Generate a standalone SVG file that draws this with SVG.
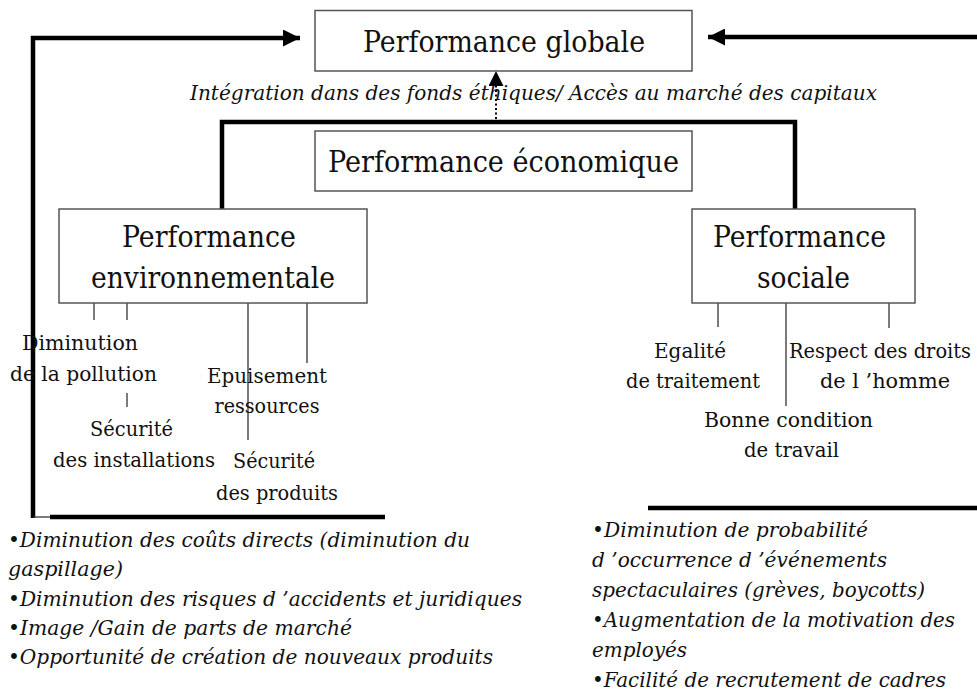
<svg xmlns="http://www.w3.org/2000/svg" width="977" height="696" viewBox="0 0 977 696">
<defs>
<style>
text{font-family:'DejaVu Serif','Noto Serif',serif;fill:#111}
.box{fill:#fff;stroke:#555;stroke-width:1.5}
.big{font-size:29px;text-anchor:middle}
.sm{font-size:21px;text-anchor:middle}
.it{font-size:19.5px;font-style:italic}
.thick{fill:none;stroke:#000;stroke-width:4.5}
.thin{fill:none;stroke:#333;stroke-width:1.3}
</style>
<marker id="ah" viewBox="0 0 10 10" refX="10" refY="5" markerWidth="17" markerHeight="17" markerUnits="userSpaceOnUse" orient="auto">
<path d="M0,0 L10,5 L0,10 z" fill="#000"/>
</marker>
<marker id="ahs" viewBox="0 0 10 10" refX="10" refY="5" markerWidth="15" markerHeight="15" markerUnits="userSpaceOnUse" orient="auto">
<path d="M0,0 L10,5 L0,10 z" fill="#000"/>
</marker>
</defs>
<rect width="977" height="696" fill="#fff"/>

<g id="connectors">
<polyline class="thick" points="33,518 33,38 300,38" marker-end="url(#ah)"/>
<line class="thick" x1="977" y1="37" x2="708" y2="37" marker-end="url(#ah)"/>
<path d="M496,87 L496,71" stroke="none" marker-end="url(#ahs)"/>
<line x1="496" y1="119" x2="496" y2="86" stroke="#000" stroke-width="2" stroke-dasharray="2,2.5"/>
<polyline class="thick" points="222,209 222,122 795,122 795,209"/>
<line class="thin" x1="33" y1="517" x2="50" y2="517"/>
<line class="thick" x1="50" y1="517" x2="385" y2="517"/>
<line class="thick" x1="648" y1="508" x2="977" y2="508"/>
<line class="thin" x1="94" y1="303" x2="94" y2="320"/>
<line class="thin" x1="127" y1="303" x2="127" y2="320"/>
<line class="thin" x1="127" y1="393" x2="127" y2="407"/>
<line class="thin" x1="248" y1="303" x2="248" y2="440"/>
<line class="thin" x1="307" y1="303" x2="307" y2="363"/>
<line class="thin" x1="718" y1="303" x2="718" y2="327"/>
<line class="thin" x1="786" y1="303" x2="786" y2="406"/>
<line class="thin" x1="889" y1="303" x2="889" y2="328"/>
</g>

<g id="global">
<rect class="box" x="315" y="10.5" width="377" height="60.5"/>
<text class="big" x="504" y="52" textLength="282" lengthAdjust="spacingAndGlyphs">Performance globale</text>
</g>
<g id="integration">
<text class="it" x="190" y="100" textLength="687" lengthAdjust="spacingAndGlyphs">Intégration dans des fonds éthiques/ Accès au marché des capitaux</text>
</g>
<g id="economique">
<rect class="box" x="315" y="131" width="377" height="60"/>
<text class="big" x="503.5" y="172" textLength="351" lengthAdjust="spacingAndGlyphs">Performance économique</text>
</g>
<g id="environnementale">
<rect class="box" x="59" y="209" width="308" height="94"/>
<text class="big" x="209" y="247" textLength="174" lengthAdjust="spacingAndGlyphs">Performance</text>
<text class="big" x="213" y="288" textLength="244" lengthAdjust="spacingAndGlyphs">environnementale</text>
</g>
<g id="sociale">
<rect class="box" x="692" y="209" width="223" height="94"/>
<text class="big" x="799.5" y="247" textLength="173" lengthAdjust="spacingAndGlyphs">Performance</text>
<text class="big" x="803.5" y="288" textLength="93" lengthAdjust="spacingAndGlyphs">sociale</text>
</g>

<g id="pollution">
<text class="sm" x="80" y="350" textLength="116" lengthAdjust="spacingAndGlyphs">Diminution</text>
<text class="sm" x="83.5" y="381" textLength="147" lengthAdjust="spacingAndGlyphs">de la pollution</text>
</g>
<g id="installations">
<text class="sm" x="131.5" y="436" textLength="83" lengthAdjust="spacingAndGlyphs">Sécurité</text>
<text class="sm" x="134" y="467" textLength="162" lengthAdjust="spacingAndGlyphs">des installations</text>
</g>
<g id="produits">
<text class="sm" x="274" y="468" textLength="82" lengthAdjust="spacingAndGlyphs">Sécurité</text>
<text class="sm" x="277" y="500" textLength="122" lengthAdjust="spacingAndGlyphs">des produits</text>
</g>
<g id="epuisement">
<text class="sm" x="267" y="383" text-anchor="start" textLength="120" lengthAdjust="spacingAndGlyphs">Epuisement</text>
<text class="sm" x="267" y="413" text-anchor="start" textLength="105" lengthAdjust="spacingAndGlyphs">ressources</text>
</g>
<g id="egalite">
<text class="sm" x="690" y="358" textLength="72" lengthAdjust="spacingAndGlyphs">Egalité</text>
<text class="sm" x="693" y="388" textLength="134" lengthAdjust="spacingAndGlyphs">de traitement</text>
</g>
<g id="droits">
<text class="sm" x="880" y="358" font-size="19" textLength="182" lengthAdjust="spacingAndGlyphs">Respect des droits</text>
<text class="sm" x="885" y="388" textLength="130" lengthAdjust="spacingAndGlyphs">de l ’homme</text>
</g>
<g id="condition">
<text class="sm" x="788.5" y="427" textLength="169" lengthAdjust="spacingAndGlyphs">Bonne condition</text>
<text class="sm" x="791.5" y="457" textLength="95" lengthAdjust="spacingAndGlyphs">de travail</text>
</g>

<g id="env-benefits">
<text class="it" x="8" y="547" textLength="462" lengthAdjust="spacingAndGlyphs">•Diminution des coûts directs (diminution du</text>
<text class="it" x="8" y="576" textLength="115" lengthAdjust="spacingAndGlyphs">gaspillage)</text>
<text class="it" x="8" y="606" textLength="514" lengthAdjust="spacingAndGlyphs">•Diminution des risques d ’accidents et juridiques</text>
<text class="it" x="8" y="635" textLength="344" lengthAdjust="spacingAndGlyphs">•Image /Gain de parts de marché</text>
<text class="it" x="8" y="664" textLength="485" lengthAdjust="spacingAndGlyphs">•Opportunité de création de nouveaux produits</text>
</g>
<g id="social-benefits">
<text class="it" x="592" y="537" textLength="276" lengthAdjust="spacingAndGlyphs">•Diminution de probabilité</text>
<text class="it" x="592" y="567" textLength="295" lengthAdjust="spacingAndGlyphs">d ’occurrence d ’événements</text>
<text class="it" x="592" y="597" textLength="333" lengthAdjust="spacingAndGlyphs">spectaculaires (grèves, boycotts)</text>
<text class="it" x="592" y="627" textLength="363" lengthAdjust="spacingAndGlyphs">•Augmentation de la motivation des</text>
<text class="it" x="592" y="657" textLength="95" lengthAdjust="spacingAndGlyphs">employés</text>
<text class="it" x="592" y="687" textLength="354" lengthAdjust="spacingAndGlyphs">•Facilité de recrutement de cadres</text>
</g>
</svg>
